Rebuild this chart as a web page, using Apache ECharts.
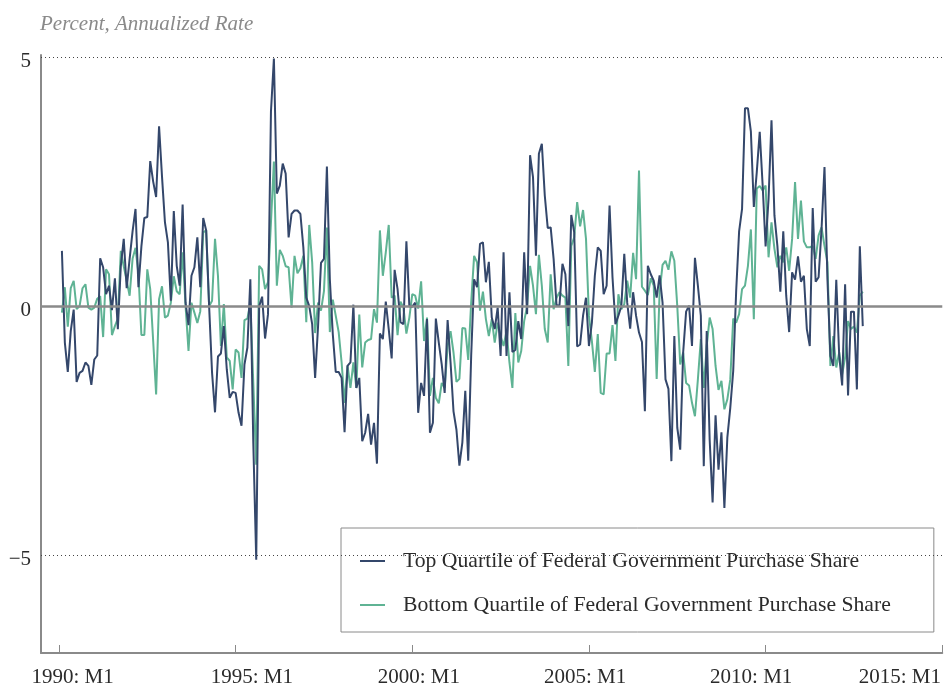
<!DOCTYPE html>
<html>
<head>
<meta charset="utf-8">
<script src="https://cdn.jsdelivr.net/npm/echarts@6/dist/echarts.min.js"></script>
<style>
  html, body { margin: 0; padding: 0; background: #fff; }
  #chart { width: 944px; height: 688px; }
</style>
</head>
<body>
<div id="chart"></div>
<script>
// months counted from 1990 M1, both series start at 1990 M2
var startMonth = 1;
var tickMonths = [0, 60, 120, 180, 240, 300];
var tickLabels = ["1990: M1", "1995: M1", "2000: M1", "2005: M1", "2010: M1", "2015: M1"];
var yLabels = [-5, 0, 5];
var seriesNames = [
  "Top Quartile of Federal Government Purchase Share",
  "Bottom Quartile of Federal Government Purchase Share"
];

var topQuartile = [
  1.11, -0.73, -1.32, -0.5, -0.07, -1.52, -1.34, -1.3, -1.13, -1.2, -1.58,
  -1.07, -0.99, 0.96, 0.78, 0.24, 0.41, -0.08, 0.56, -0.46, 0.8, 1.35, 0.36,
  0.95, 1.5, 1.95, 0.38, 1.2, 1.77, 1.79, 2.91, 2.5, 2.19, 3.61, 2.6,
  1.68, 1.28, 0.11, 1.91, 0.81, 0.41, 2.04, 0.07, -0.38, 0.61, 0.78, 1.38,
  0.38, 1.77, 1.52, 0.0, -1.34, -2.13, -1.01, -0.95, -0.4, -1.27, -1.84, -1.72,
  -1.74, -2.14, -2.4, -1.17, -0.83, 0.54, -2.74, -5.09, 0.0, 0.19, -0.65, -0.16,
  3.9, 4.97, 2.26, 2.42, 2.86, 2.66, 1.38, 1.85, 1.92, 1.92, 1.85, 1.18,
  0.17, 0.0, -0.36, -1.44, -0.4, 0.87, 0.95, 2.8, 0.54, -0.56, -1.32, -1.32,
  -1.44, -2.53, -1.2, -1.13, 0.03, -1.64, -1.44, -2.71, -2.54, -2.16, -2.78, -2.34,
  -3.16, -0.55, -0.66, 0.09, -0.46, -1.05, 0.73, 0.34, -0.32, -0.36, 1.3, 0.0,
  -0.01, 0.07, -2.14, -1.54, -1.8, -0.26, -2.54, -2.34, -0.25, -0.73, -1.17, -1.74,
  -0.28, -1.13, -2.11, -2.48, -3.2, -2.74, -1.7, -3.1, -1.0, 0.54, 0.38, 1.25,
  1.28, 0.48, 0.89, -0.23, -0.46, -0.03, -1.0, 1.08, -1.0, 0.28, -0.92, -0.88,
  -0.3, -0.66, 1.08, -0.16, 3.03, 2.59, 1.01, 3.06, 3.26, 2.22, 1.57, 1.58,
  0.95, 0.01, 0.02, 0.85, 0.64, -0.4, 1.83, 1.48, -0.81, -0.77, -0.19, 0.17,
  -0.8, -0.33, 0.61, 1.18, 1.11, 0.24, 0.41, 2.02, 0.58, -0.36, -0.19, 0.0,
  1.05, 0.07, -0.45, 0.28, -0.19, -0.53, -0.72, -2.11, 0.81, 0.64, 0.51, 0.17,
  0.62, 0.07, -1.47, -1.66, -3.11, -0.6, -2.44, -2.88, -0.93, -0.11, 0.01, -0.8,
  0.97, 0.41, -0.19, -3.21, -0.5, -2.68, -3.94, -2.19, -3.28, -2.53, -4.05, -2.64,
  -2.04, -1.3, 0.3, 1.5, 1.95, 3.97, 3.97, 3.5, 1.99, 2.69, 3.5, 2.42,
  1.2, 2.15, 3.73, 1.82, 1.21, 0.29, 1.5, 0.21, -0.52, 0.68, 0.53, 1.0,
  0.49, 0.61, -0.46, -0.8, 1.97, 0.49, 0.58, 1.55, 2.79, 0.54, -1.0, -1.2,
  0.53, -1.0, -1.59, 0.44, -1.79, -0.11, -0.11, -1.67, 1.2, -0.4
];

var bottomQuartile = [
  -0.13, 0.38, -0.41, 0.36, 0.51, -0.06, 0.0, 0.36, 0.44, -0.03, -0.07,
  -0.03, 0.15, 0.2, -0.62, 0.74, 0.64, -0.58, -0.4, -0.25, 1.11, 0.8, 0.51,
  0.21, 0.95, 1.17, 0.64, -0.58, -0.58, 0.74, 0.34, -0.7, -1.77, 0.14, 0.4,
  -0.23, -0.19, 0.07, 0.6, 0.3, 0.24, 1.08, 0.0, -0.9, 0.07, -0.13, -0.34,
  -0.1, 1.48, 1.52, 0.0, 0.11, 1.35, 0.61, -0.8, 0.04, -1.03, -1.1, -1.67,
  -0.87, -0.93, -1.44, -0.28, -0.25, 0.07, -1.54, -3.18, 0.81, 0.74, 0.34, 0.48,
  1.68, 2.9, 0.41, 1.13, 1.01, 0.8, 0.78, -0.03, 1.01, 0.66, 0.76, 1.01,
  -0.32, 1.63, 0.88, -0.54, 0.07, -0.09, 0.3, 1.58, -0.52, 0.13, -0.19, -0.52,
  -1.13, -1.94, -1.19, -1.64, -1.13, -1.64, -0.17, -1.23, -0.73, -0.68, -0.66, -0.06,
  -0.33, 1.52, 0.61, 1.08, 1.63, 0.17, 0.21, -0.58, 0.09, -0.03, -0.55, -0.23,
  0.24, 0.21, -0.05, 0.5, -0.7, -0.23, -1.8, -1.44, -1.84, -1.95, -1.54, -1.64,
  -0.8, -0.5, -0.93, -1.52, -1.46, -0.44, -0.45, -1.08, 0.07, 1.01, 0.88, -0.09,
  0.29, -0.26, -0.6, -0.26, -0.73, -0.33, -0.6, -0.8, -0.5, -1.13, -1.64, -0.14,
  -1.13, -0.9, -0.3, 0.0, 0.81, 0.41, -0.16, 1.03, 0.41, -0.46, -0.73, 0.64,
  -0.06, 0.17, 0.28, 0.21, 0.17, -1.2, 1.21, 1.38, 2.09, 1.6, 1.93, 1.35,
  -0.19, -0.7, -1.32, -0.56, -1.74, -1.77, -0.95, -0.95, -0.38, -1.1, 0.24, -0.06,
  0.04, 0.51, 0.17, 1.07, 0.54, 2.72, 0.39, 0.31, 0.22, 0.56, 0.41, -1.46,
  0.28, 0.83, 0.91, 0.73, 1.1, 0.91, 0.0, -1.17, -0.93, -1.54, -1.59, -1.94,
  -2.21, -1.47, -0.66, -1.64, -0.8, -0.23, -0.46, -1.2, -1.68, -1.5, -2.07, -1.87,
  -1.47, -0.25, -0.33, -0.16, 0.34, 0.41, 0.81, 1.54, -0.26, 2.36, 2.41, 2.32,
  2.42, 0.98, 1.68, 1.15, 0.78, 1.01, 0.88, 1.18, 0.71, 1.35, 2.49, 1.35,
  2.12, 1.3, 1.18, 1.18, 1.21, 0.95, 1.42, 1.58, 1.21, 0.88, -1.2, -0.6,
  -1.23, -0.93, -1.37, -1.03, -0.3, -0.46, -0.41, -0.53, 0.21, 0.29
];

var serif = "Liberation Serif";
var axisGray = "#8a8a8a";
// where the year labels sit under the axis (in months), as in the source layout
var labelAt = [4.6, 65.5, 122.2, 178.7, 235.1, 285.6];

function toPoints(arr) {
  return arr.map(function (v, i) { return [startMonth + i, v]; });
}

var chart = echarts.init(document.getElementById("chart"));

var option = {
  animation: false,
  backgroundColor: "#fff",
  title: {
    text: "Percent, Annualized Rate",
    left: 35,
    top: 9,
    textStyle: { fontFamily: serif, fontStyle: "italic", fontWeight: "normal", fontSize: 21, color: "#8a8a8a" }
  },
  grid: { left: 41, right: 0, top: 55, bottom: 35, containLabel: false },
  legend: {
    data: seriesNames,
    orient: "vertical",
    left: 341,
    top: 528,
    padding: [22, 43, 16, 19],
    itemWidth: 25,
    itemHeight: 2,
    itemGap: 22,
    icon: "rect",
    backgroundColor: "#fff",
    borderColor: axisGray,
    borderWidth: 1,
    textStyle: { fontFamily: serif, fontSize: 21.7, color: "#2b2b2b", padding: [0, 0, 0, 13], lineHeight: 20 }
  },
  xAxis: {
    type: "value",
    min: -6.1,
    max: 300,
    axisLine: { onZero: false, lineStyle: { color: axisGray, width: 2 } },
    axisTick: { show: true, inside: true, length: 8, customValues: tickMonths, lineStyle: { color: axisGray, width: 1 } },
    axisLabel: {
      customValues: labelAt,
      formatter: function (v) {
        var best = 0;
        for (var i = 1; i < labelAt.length; i++) {
          if (Math.abs(labelAt[i] - v) < Math.abs(labelAt[best] - v)) best = i;
        }
        return tickLabels[best];
      },
      fontFamily: serif,
      fontSize: 21,
      color: "#2b2b2b",
      margin: 14
    },
    splitLine: { show: false }
  },
  yAxis: {
    type: "value",
    min: -6.96,
    max: 5.04,
    axisLine: { show: true, onZero: false, lineStyle: { color: axisGray, width: 2 } },
    axisTick: { show: false },
    axisLabel: {
      customValues: yLabels,
      formatter: function (v) { return v < 0 ? "\u2212" + Math.abs(v) : String(v); },
      fontFamily: serif,
      fontSize: 21,
      color: "#2b2b2b",
      margin: 10,
      verticalAlign: "top",
      lineHeight: 8
    },
    splitLine: { show: false }
  },
  series: [
    {
      name: "gridlines",
      type: "line",
      data: [],
      z: 1,
      silent: true,
      markLine: {
        silent: true,
        symbol: "none",
        label: { show: false },
        data: [
          { yAxis: 5, lineStyle: { color: "#444", width: 1, type: [1, 3] } },
          { yAxis: -5, lineStyle: { color: "#444", width: 1, type: [1, 3] } },
          { yAxis: 0, lineStyle: { color: axisGray, width: 2.5, type: "solid" } }
        ]
      }
    },
    {
      name: seriesNames[0],
      type: "line",
      z: 3,
      data: toPoints(topQuartile),
      showSymbol: false,
      color: "#34476b",
      lineStyle: { width: 2, color: "#34476b" }
    },
    {
      name: seriesNames[1],
      type: "line",
      z: 2,
      data: toPoints(bottomQuartile),
      showSymbol: false,
      color: "#5fb394",
      lineStyle: { width: 2, color: "#5fb394" }
    }
  ]
};

chart.setOption(option);
</script>
</body>
</html>
